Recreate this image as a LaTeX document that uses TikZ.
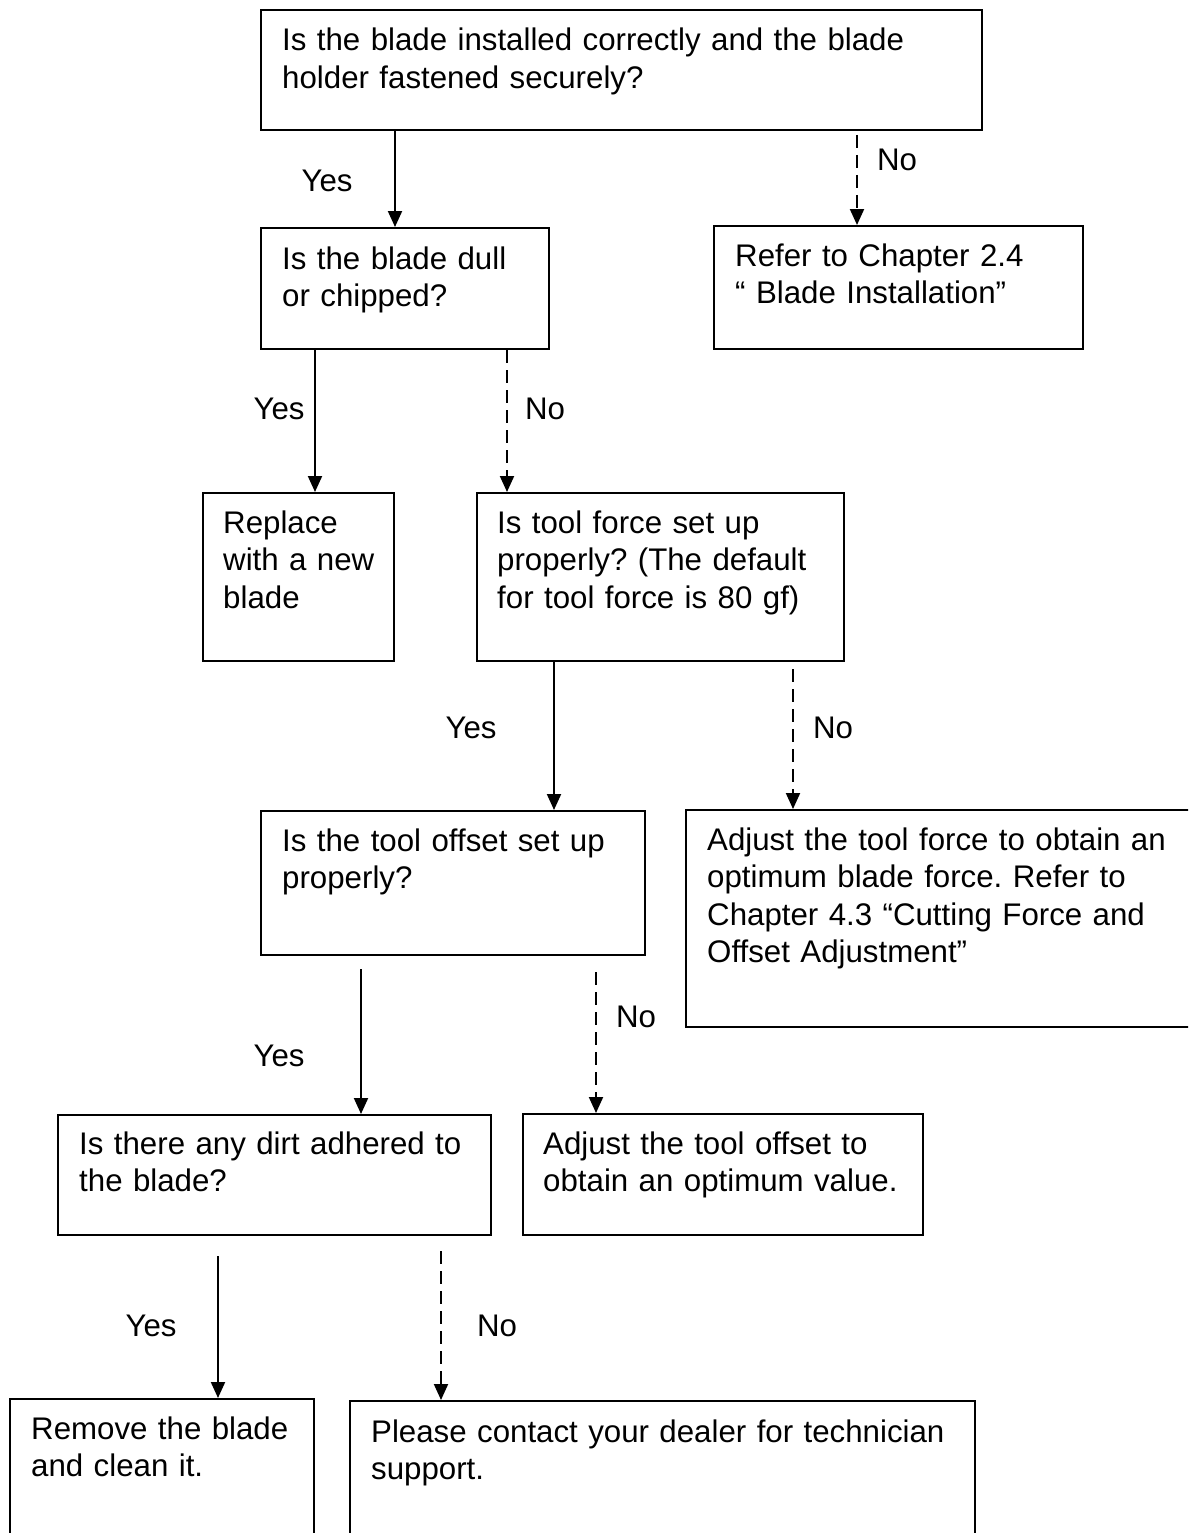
\documentclass[tikz,border=0pt]{standalone}
\usepackage{fontspec}
\setmainfont{Liberation Sans}
\usetikzlibrary{arrows.meta}
\frenchspacing
\begin{document}
\frenchspacing
\begin{tikzpicture}[x=1pt,y=-1pt,
  box/.style={draw, line width=2pt, rectangle, inner sep=0pt, anchor=north west},
  txt/.style={anchor=base west, inner sep=0pt, align=left, font=\fontsize{31.25}{37.5}\selectfont\frenchspacing},
  lbl/.style={inner sep=0pt, font=\fontsize{31.25}{37.5}\selectfont},
  yesarrow/.style={line width=2pt, -{Triangle[length=16pt,width=14pt]}},
  noarrow/.style={yesarrow, dash pattern=on 13pt off 7pt}]
\useasboundingbox (0,0) rectangle (1188,1533);
\clip (0,0) rectangle (1188,1533);
\fill[white] (0,0) rectangle (1188,1533);

% boxes
\node[box, minimum width=721pt, minimum height=120pt] (A) at (260,9) {};
\node[box, minimum width=288pt, minimum height=121pt] (B) at (260,227) {};
\node[box, minimum width=369pt, minimum height=123pt] (C) at (713,225) {};
\node[box, minimum width=191pt, minimum height=168pt] (D) at (202,492) {};
\node[box, minimum width=367pt, minimum height=168pt] (E) at (476,492) {};
\node[box, minimum width=384pt, minimum height=144pt] (F) at (260,810) {};
\node[box, minimum width=520pt, minimum height=217pt] (G) at (685,809) {};
\node[box, minimum width=433pt, minimum height=120pt] (H) at (57,1114) {};
\node[box, minimum width=400pt, minimum height=121pt] (I) at (522,1113) {};
\node[box, minimum width=304pt, minimum height=160pt] (J) at (9,1398) {};
\node[box, minimum width=625pt, minimum height=160pt] (K) at (349,1400) {};

% texts
\node[txt, text width=693pt] (At) at (282,51) {Is the blade installed correctly and the blade\\holder fastened securely?};
\node[txt, text width=260pt] (Bt) at (282,269) {Is the blade dull\\or chipped?};
\node[txt, text width=342pt] (Ct) at (735,266) {Refer to Chapter 2.4\\“ Blade Installation”};
\node[txt, text width=166pt] (Dt) at (223,533) {Replace\\with a new\\blade};
\node[txt, text width=342pt] (Et) at (497,533) {Is tool force set up\\properly? (The default\\for tool force is 80 gf)};
\node[txt, text width=356pt] (Ft) at (282,851) {Is the tool offset set up\\properly?};
\node[txt, text width=478pt] (Gt) at (707,850) {Adjust the tool force to obtain an\\optimum blade force. Refer to\\Chapter 4.3 “Cutting Force and\\Offset Adjustment”};
\node[txt, text width=406pt] (Ht) at (79,1154) {Is there any dirt adhered to\\the blade?};
\node[txt, text width=374pt] (It) at (543,1154) {Adjust the tool offset to\\obtain an optimum value.};
\node[txt, text width=277pt] (Jt) at (31,1439) {Remove the blade\\and clean it.};
\node[txt, text width=599pt] (Kt) at (371,1442) {Please contact your dealer for technician\\support.};

% arrow x positions
\coordinate (x1) at (395,0);
\coordinate (x2) at (857,0);
\coordinate (x3) at (315,0);
\coordinate (x4) at (507,0);
\coordinate (x5) at (554,0);
\coordinate (x6) at (793,0);
\coordinate (x7) at (361,0);
\coordinate (x8) at (596,0);
\coordinate (x9) at (218,0);
\coordinate (x10) at (441,0);

% connectors
\draw[yesarrow] (A.south -| x1) -- (B.north -| x1);
\draw[noarrow, shorten <=4pt] (A.south -| x2) -- (C.north -| x2);
\draw[yesarrow] (B.south -| x3) -- (D.north -| x3);
\draw[noarrow] (B.south -| x4) -- (E.north -| x4);
\draw[yesarrow] (E.south -| x5) -- (F.north -| x5);
\draw[noarrow, shorten <=7pt] (E.south -| x6) -- (G.north -| x6);
\draw[yesarrow, shorten <=13pt] (F.south -| x7) -- (H.north -| x7);
\draw[noarrow, shorten <=16pt] (F.south -| x8) -- (I.north -| x8);
\draw[yesarrow, shorten <=20pt] (H.south -| x9) -- (J.north -| x9);
\draw[noarrow, shorten <=15pt] (H.south -| x10) -- (K.north -| x10);

% labels
\node[lbl] (l1) at (327,181) {Yes};
\node[lbl] (l2) at (897,160) {No};
\node[lbl] (l3) at (279,409) {Yes};
\node[lbl] (l4) at (545,409) {No};
\node[lbl] (l5) at (471,728) {Yes};
\node[lbl] (l6) at (833,728) {No};
\node[lbl] (l7) at (279,1056) {Yes};
\node[lbl] (l8) at (636,1017) {No};
\node[lbl] (l9) at (151,1326) {Yes};
\node[lbl] (l10) at (497,1326) {No};
\end{tikzpicture}
\end{document}
